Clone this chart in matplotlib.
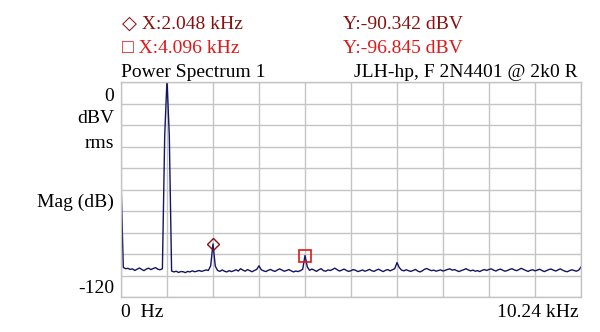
import numpy as np
import matplotlib
matplotlib.use("Agg")
import matplotlib.pyplot as plt

# ---- data ----
f_max_khz = 10.24
mag_dbv = [
    -55.0, -103.5, -104.2, -104.0, -104.6, -104.3, -105.2, -104.5, -103.8, -104.6,
    -105.3, -104.4, -103.9, -104.7, -104.1, -103.6, -104.5, -104.8, -104.2, -30.0,
    1.5, -30.0, -105.5, -106.0, -105.6, -106.3, -105.8, -105.9, -106.4, -105.7,
    -106.0, -105.4, -105.9, -105.6, -105.2, -105.7, -105.3, -104.9, -105.2, -102.5,
    -90.342, -102.8, -105.2, -105.7, -104.9, -105.6, -106.0, -105.3, -105.8, -105.4,
    -104.8, -105.5, -104.2, -105.0, -105.6, -104.7, -105.3, -105.9, -105.2, -104.6,
    -102.6, -104.8, -105.4, -105.8, -105.1, -104.6, -105.3, -105.7, -104.9, -104.3,
    -105.0, -105.6, -105.2, -104.7, -105.4, -106.0, -105.5, -105.8, -105.3, -104.5,
    -96.845, -103.2, -105.1, -104.4, -105.0, -105.7, -104.8, -104.2, -105.3, -105.6,
    -104.9, -105.2, -104.6, -103.9, -104.8, -105.5, -105.0, -104.4, -105.2, -105.7,
    -105.3, -104.7, -105.1, -105.8, -105.4, -104.9, -105.6, -105.2, -104.6, -105.3,
    -105.7, -105.0, -104.5, -105.2, -105.8, -105.1, -104.7, -105.4, -104.8, -104.2,
    -100.8, -103.6, -105.0, -105.4, -104.8, -105.3, -105.7, -105.2, -104.6, -105.5,
    -106.0, -105.4, -104.5, -104.1, -104.8, -105.3, -105.0, -105.6, -105.2, -104.9,
    -105.5, -105.1, -104.6, -104.3, -105.0, -104.7, -105.3, -105.8, -105.2, -104.8,
    -104.2, -104.9, -105.4, -105.0, -105.6, -105.3, -105.8, -105.1, -104.7, -105.2,
    -104.6, -104.3, -105.0, -105.5, -104.8, -104.4, -105.1, -105.6, -105.2, -104.6,
    -104.2, -104.9, -105.3, -104.7, -104.0, -104.6, -105.2, -105.7, -105.1, -104.8,
    -105.4, -105.0, -104.5, -105.2, -105.8, -105.3, -104.7, -104.4, -105.0, -105.5,
    -104.9, -104.3, -105.0, -105.6, -105.9, -105.3, -104.8, -105.2, -105.6, -105.0,
    -103.3,
]
freq_khz = np.linspace(0, f_max_khz, len(mag_dbv))

marker1_x, marker1_y = 2.048, -90.342
marker2_x, marker2_y = 4.096, -96.845

# ---- figure ----
W, H = 600, 332
fig = plt.figure(figsize=(W / 100, H / 100), dpi=100)
fig.patch.set_facecolor("white")

L, R, T, B = 121, 581, 82, 297
ax = fig.add_axes([L / W, 1 - B / H, (R - L) / W, (B - T) / H])
ax.set_xlim(0, f_max_khz)
ax.set_ylim(-120, 0)
ax.set_xticks(np.linspace(0, f_max_khz, 11))
ax.set_yticks(np.linspace(-120, 0, 11))
ax.grid(True, color="#c4c4c4", linewidth=1)
ax.tick_params(length=0, labelbottom=False, labelleft=False)
for s in ax.spines.values():
    s.set_color("#c4c4c4")
    s.set_linewidth(1)

ax.plot(freq_khz, mag_dbv, color="#141464", linewidth=1.0)
ax.plot([marker1_x], [marker1_y], marker="D", ms=6.5, mfc="none", mec="#8b1010", mew=1.0)
ax.plot([marker2_x], [marker2_y], marker="s", ms=8.5, mfc="none", mec="#e01818", mew=1.2)

serif = ["Liberation Serif", "DejaVu Serif", "DejaVu Sans"]
fs = 14

def txt(x, y, s, ha="left", color="black"):
    fig.text(x / W, 1 - y / H, s, ha=ha, va="baseline", color=color,
             fontsize=fs, family=serif)

dark_red = "#8b0f0f"
red = "#e01818"
txt(122, 29, "◇ X:2.048 kHz", color=dark_red)
txt(343, 29, "Y:-90.342 dBV", color=dark_red)
txt(122, 53, "□ X:4.096 kHz", color=red)
txt(343, 53, "Y:-96.845 dBV", color=red)
txt(121, 77, "Power Spectrum 1")
txt(578, 77, "JLH-hp, F 2N4401 @ 2k0 R", ha="right")

txt(114, 101, "0", ha="right")
txt(114, 123, "dBV", ha="right")
txt(114, 148, "rms", ha="right")
txt(114, 207, "Mag (dB)", ha="right")
txt(114, 293, "-120", ha="right")

txt(121, 317, "0  Hz")
txt(579, 317, "10.24 kHz", ha="right")

fig.savefig("out.png", dpi=100, facecolor="white")
